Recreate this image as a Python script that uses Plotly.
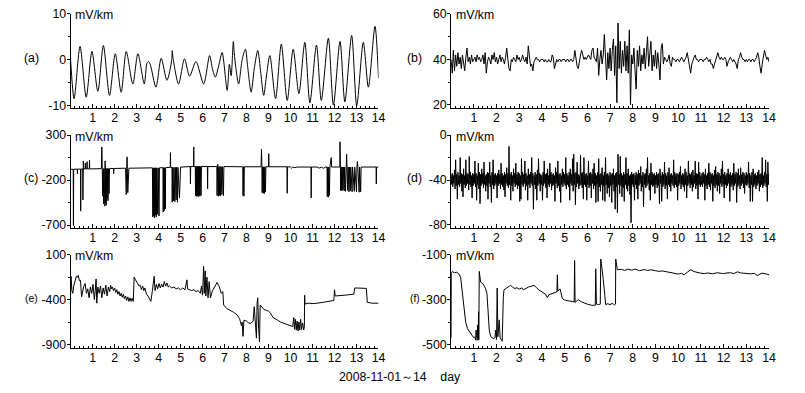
import plotly.graph_objects as go

# ---------------- data ----------------
days = list(range(1, 15))
tick_text = [str(d) for d in days]

# (a) extrema of the tidal-like signal
a_day = [0.00, 0.16, 0.43, 0.71, 0.97, 1.24, 1.49, 1.77, 2.03, 2.30, 2.53, 2.83, 3.06, 3.35, 3.47, 3.54, 3.62,
         3.88, 4.12, 4.38, 4.60, 4.62, 4.66, 4.91, 5.18, 5.41, 5.70, 6.05, 6.32, 6.45, 6.58, 6.75, 6.89, 7.12,
         7.22, 7.30, 7.40, 7.44, 7.52, 7.64, 7.80, 7.95, 8.05, 8.21, 8.35, 8.51, 8.65, 8.78, 8.92, 9.06, 9.32,
         9.58, 9.85, 10.12, 10.38, 10.65, 10.88, 11.18, 11.40, 11.72, 11.95, 12.25, 12.47, 12.78, 13.01, 13.31,
         13.54, 13.84, 14.00]
a_val = [0.0, -8.5, 2.9, -8.2, 1.8, -6.9, 3.1, -7.8, 1.3, -7.1, 1.8, -5.3, 1.3, -5.3, -0.8, -0.4, -1.0,
         -6.0, 0.3, -4.5, 0.0, 2.0, 0.3, -5.3, 0.2, -3.6, -0.4, -5.3, 0.9, -2.0, -3.8, -1.0, 1.6, -6.7,
         -1.0, -3.5, 4.0, 1.5, -2.0, -5.3, 0.0, 2.3, -1.5, -7.1, -2.0, 2.0, -3.0, -7.8, -3.0, 0.9, -8.5,
         3.4, -8.9, 2.3, -7.4, 3.8, -9.4, 3.2, -8.9, 4.7, -9.9, 4.0, -9.2, 5.3, -10.0, 3.8,
         -6.0, 7.3, -4.0]

# (b) sampled every 0.05 day
sample_step = 0.05
b_val = [40, 34, 44, 35, 42, 37, 43, 38, 41, 36, 42, 38, 35, 41, 45, 39, 41, 38, 42, 39,
         40, 41, 39, 42, 40, 41, 39, 40, 42, 38, 43, 34, 39, 41, 40, 38, 42, 40, 43, 39,
         41, 38, 40, 42, 39, 41, 40, 38, 41, 45, 40, 36, 35, 40, 39, 41, 40, 39, 42, 40,
         41, 39, 40, 42, 40, 39, 41, 38, 46, 40, 37, 38, 35, 39, 40, 41, 40, 40, 39, 40,
         40, 40, 39, 40, 39, 39, 40, 39, 39, 42, 41, 36, 38, 40, 39, 40, 40, 39, 40, 40,
         40, 39, 40, 40, 39, 40, 40, 39, 40, 44, 41, 37, 36, 40, 42, 44, 41, 40, 41, 40,
         41, 42, 41, 40, 44, 45, 41, 40, 39, 45, 33, 40, 44, 38, 42, 51, 37, 31, 43, 36,
         45, 35, 44, 49, 33, 46, 21, 56, 36, 48, 34, 44, 37, 48, 35, 46, 34, 53, 20, 42,
         38, 45, 35, 27, 44, 37, 46, 35, 42, 38, 45, 36, 43, 50, 37, 44, 48, 35, 42, 37,
         44, 36, 43, 38, 31, 45, 47, 38, 41, 40, 39, 40, 42, 38, 37, 41, 40, 40, 39, 40,
         40, 39, 40, 41, 40, 39, 40, 41, 43, 40, 37, 34, 38, 40, 41, 42, 40, 40, 39, 40,
         40, 40, 39, 40, 40, 41, 40, 39, 40, 38, 38, 36, 38, 40, 41, 43, 41, 40, 41, 40,
         40, 41, 40, 37, 39, 40, 41, 40, 39, 40, 39, 38, 36, 40, 41, 43, 41, 40, 40, 39,
         40, 39, 40, 40, 39, 40, 40, 39, 40, 41, 43, 41, 37, 34, 38, 41, 44, 42, 40, 41, 39]

# (d) upper and lower excursion in each 0.05-day bin
d_hi = [-35, -34, -36, -31, -22, -35, -33, -36, -20, -34, -35, -30, -36, -22, -34, -35, -19, -33, -36, -34,
        -35, -23, -34, -36, -25, -33, -35, -30, -34, -24, -36, -35, -33, -34, -24, -36, -33, -22, -35, -34,
        -36, -34, -31, -35, -25, -34, -36, -33, -35, -29, -34, -10, -35, -33, -36, -30, -34, -25, -35, -33,
        -34, -36, -21, -33, -35, -23, -34, -36, -30, -35, -33, -20, -34, -36, -33, -35, -31, -21, -34, -35,
        -36, -33, -23, -35, -34, -30, -36, -25, -33, -35, -34, -36, -29, -33, -23, -35, -34, -36, -30, -33,
        -35, -20, -34, -36, -33, -30, -35, -21, -17, -34, -33, -24, -35, -36, -18, -34, -33, -20, -35, -34,
        -36, -23, -34, -33, -35, -30, -25, -34, -36, -33, -21, -35, -34, -29, -36, -33, -20, -35, -34, -36,
        -33, -35, -34, -30, -36, -34, -33, -17, -35, -19, -34, -36, -33, -35, -20, -34, -30, -36, -35, -33,
        -35, -34, -36, -33, -35, -31, -34, -28, -36, -33, -35, -34, -30, -20, -36, -34, -25, -33, -35, -34,
        -36, -33, -35, -34, -30, -36, -33, -35, -24, -34, -36, -33, -29, -35, -34, -36, -22, -33, -35, -34,
        -35, -33, -28, -36, -34, -35, -30, -33, -36, -23, -34, -35, -33, -31, -36, -23, -34, -35, -24, -33,
        -36, -34, -33, -35, -30, -36, -34, -25, -33, -35, -34, -36, -31, -28, -35, -33, -34, -36, -30, -23,
        -35, -33, -36, -34, -30, -35, -33, -36, -34, -25, -35, -33, -34, -30, -36, -29, -35, -33, -34, -36,
        -33, -35, -24, -34, -36, -33, -30, -35, -34, -36, -33, -31, -35, -34, -20, -36, -33, -22, -35, -24, -34]
d_lo = [-44, -46, -43, -48, -45, -57, -44, -46, -43, -50, -55, -44, -47, -45, -43, -49, -44, -46, -56, -45,
        -43, -46, -58, -44, -48, -61, -45, -43, -47, -44, -50, -45, -57, -43, -46, -60, -44, -48, -45, -43,
        -56, -45, -43, -48, -44, -46, -49, -55, -43, -45, -47, -44, -58, -45, -50, -43, -46, -44, -48, -45,
        -59, -57, -44, -46, -43, -49, -45, -58, -44, -47, -43, -45, -66, -44, -48, -58, -45, -43, -50, -44,
        -58, -45, -43, -47, -56, -44, -46, -43, -49, -45, -44, -59, -43, -47, -45, -50, -60, -44, -46, -43,
        -45, -48, -44, -46, -58, -43, -45, -50, -44, -62, -46, -43, -48, -45, -44, -47, -57, -44, -46, -58,
        -44, -47, -45, -56, -43, -48, -45, -60, -44, -59, -46, -50, -44, -58, -45, -59, -44, -52, -47, -55,
        -45, -60, -44, -50, -66, -46, -69, -44, -52, -45, -55, -47, -59, -44, -48, -50, -45, -53, -78, -44,
        -46, -58, -44, -48, -57, -45, -43, -50, -46, -64, -44, -47, -45, -43, -49, -58, -44, -46, -45, -52,
        -44, -47, -45, -61, -43, -59, -46, -44, -48, -45, -57, -44, -46, -50, -43, -45, -47, -44, -46, -58,
        -45, -43, -48, -44, -46, -50, -44, -56, -45, -43, -47, -44, -50, -46, -43, -48, -45, -57, -44, -46,
        -44, -46, -43, -58, -45, -48, -44, -46, -49, -43, -59, -45, -47, -44, -50, -45, -52, -43, -46, -44,
        -56, -44, -47, -45, -43, -59, -46, -44, -49, -45, -43, -60, -46, -44, -48, -45, -43, -47, -52, -44,
        -45, -43, -47, -59, -44, -59, -46, -44, -48, -45, -43, -50, -46, -44, -47, -45, -43, -46, -59, -44, -45]

# (c) baseline with bursts
c_day = [0.00, 0.12, 0.13, 0.14, 0.30, 0.31, 0.32, 0.45, 0.46, 0.47, 0.55, 0.56, 0.57, 0.58, 0.59, 0.66, 0.67, 0.68,
         0.74, 0.75, 0.76, 0.85, 0.86, 0.87, 1.40, 1.42, 1.44, 1.46, 1.48, 1.50, 1.52, 1.53, 1.55, 1.56, 1.57, 1.58,
         1.59, 1.61, 1.62, 1.64, 1.66, 1.68, 1.70, 1.72, 1.75, 1.77, 1.95, 1.96, 1.97, 2.50, 2.53, 2.55, 2.57, 2.58,
         2.60, 2.62, 2.63, 2.65, 3.72, 3.74, 3.76, 3.78, 3.80, 3.82, 3.84, 3.86, 3.88, 3.90, 3.92, 3.96, 3.98, 4.02,
         4.04, 4.20, 4.21, 4.23, 4.26, 4.28, 4.31, 4.32, 4.53, 4.54, 4.55, 4.61, 4.62, 4.64, 4.68, 4.70, 4.74, 4.76,
         4.80, 4.82, 4.86, 4.88, 4.95, 4.97, 5.00, 5.44, 5.45, 5.46, 5.59, 5.60, 5.61, 5.67, 5.68, 5.70, 5.72, 5.74,
         5.76, 5.78, 5.80, 5.82, 5.84, 5.86, 5.88, 5.90, 5.93, 5.95, 6.22, 6.23, 6.24, 6.65, 6.66, 6.68, 6.69, 6.70,
         6.72, 6.74, 6.77, 6.79, 6.82, 6.84, 6.88, 6.90, 6.95, 6.97, 7.83, 7.84, 7.86, 7.88, 7.90, 8.66, 8.68, 8.70,
         8.71, 8.73, 8.76, 8.78, 8.81, 8.83, 8.86, 8.88, 9.00, 9.01, 9.02, 9.84, 9.85, 9.86, 10.00, 10.05, 10.10,
         10.20, 10.30, 10.93, 10.94, 10.95, 11.20, 11.30, 11.40, 11.50, 11.60, 11.66, 11.67, 11.69, 11.72, 11.74,
         11.77, 11.79, 11.85, 11.87, 12.24, 12.25, 12.27, 12.28, 12.30, 12.33, 12.35, 12.38, 12.40, 12.44, 12.46,
         12.50, 12.52, 12.55, 12.57, 12.60, 12.62, 12.66, 12.68, 12.72, 12.74, 12.80, 12.82, 12.90, 12.92, 13.00,
         13.02, 13.04, 13.06, 13.12, 13.14, 13.19, 13.21, 13.89, 13.90, 13.91, 14.00]
c_val = [-80, -80, -705, -80, -78, -130, -78, -77, -545, -77, -76, -420, -76, 13, -76, -76, -10, -76,
         -76, 5, -76, -76, 20, -76, -73, 168, -73, -380, -73, -464, -73, -470, -73, -490, 13, -73,
         -450, -73, -480, -72, -400, -72, -430, -72, -350, -72, -71, -130, -71, -68, -361, -68, 58, -68,
         -340, -68, -300, -68, -64, -611, -64, -600, -64, -620, -64, -590, -64, -611, -64, -580, -64, -600,
         -64, -62, -556, -62, -540, -62, -520, -62, -58, 105, -58, -58, -446, -58, -430, -58, -440, -58,
         -420, -58, -446, -58, -400, -58, -56, -50, -243, -50, -48, 168, -48, -48, -372, -48, -380, -48,
         -372, -48, -385, -48, -372, -48, -380, -48, -370, -48, -50, -298, -50, -50, -372, -50, -25, -50,
         -380, -50, -370, -50, -375, -50, -360, -50, -372, -50, -52, -372, -52, -380, -52, -52, 142, -52,
         -340, -52, -347, -52, -350, -52, -330, -52, -52, 94, -52, -52, -347, -52, -55, -67, -55,
         -62, -55, -55, -398, -55, -55, -67, -58, -68, -55, -55, -383, -55, -390, -55,
         -370, -55, 50, -55, -55, 226, -55, -317, -55, -320, -55, -310, -55, -320, -55,
         -325, -55, 87, -55, -315, -55, -330, -55, -320, -55, -330, -55, -325, -55, -330,
         -55, 6, -55, -335, -55, -330, -55, -55, -243, -55, -55]

# (e)
e_day = [0.00, 0.02, 0.06, 0.10, 0.14, 0.20, 0.26, 0.31, 0.35, 0.40, 0.45, 0.50, 0.55, 0.60, 0.66, 0.72, 0.78,
         0.84, 0.90, 0.96, 1.02, 1.08, 1.12, 1.16, 1.19, 1.24, 1.30, 1.36, 1.42, 1.48, 1.54, 1.60, 1.66, 1.72,
         1.78, 1.82, 1.86, 1.90, 1.95, 2.00, 2.05, 2.10, 2.15, 2.20, 2.25, 2.30, 2.35, 2.40, 2.45, 2.50, 2.55,
         2.60, 2.65, 2.70, 2.75, 2.80, 2.85, 2.89, 2.95, 3.05, 3.12, 3.17, 3.22, 3.28, 3.33, 3.38, 3.45, 3.52,
         3.58, 3.65, 3.72, 3.80, 3.84, 3.90, 3.96, 4.02, 4.08, 4.14, 4.20, 4.26, 4.32, 4.38, 4.44, 4.50, 4.60,
         4.70, 4.80, 4.90, 5.00, 5.10, 5.20, 5.29, 5.32, 5.40, 5.50, 5.60, 5.70, 5.80, 5.90, 5.95, 6.00, 6.05,
         6.08, 6.12, 6.15, 6.20, 6.25, 6.30, 6.36, 6.45, 6.55, 6.66, 6.75, 6.85, 6.92, 6.96, 7.10, 7.27, 7.40,
         7.57, 7.68, 7.77, 7.80, 7.84, 7.88, 8.00, 8.10, 8.20, 8.30, 8.35, 8.40, 8.45, 8.48, 8.51, 8.55, 8.59,
         8.62, 8.70, 8.79, 8.90, 9.00, 9.09, 9.20, 9.35, 9.54, 9.70, 9.85, 10.00, 10.10, 10.15, 10.18, 10.22,
         10.26, 10.30, 10.34, 10.38, 10.42, 10.46, 10.50, 10.55, 10.60, 10.63, 10.64, 10.66, 10.80, 11.06,
         11.50, 11.97, 12.00, 12.03, 12.50, 12.88, 12.92, 13.20, 13.45, 13.49, 13.70, 14.00]
e_val = [-350, -140, -300, -330, -250, -200, -140, -150, -130, -190, -185, -370, -300, -250, -220, -330, -280,
         -380, -260, -330, -230, -400, -300, -170, -440, -260, -330, -250, -380, -270, -340, -240, -360, -260,
         -310, -240, -280, -260, -300, -270, -320, -290, -340, -310, -360, -330, -375, -340, -390, -360, -410,
         -370, -420, -380, -420, -385, -420, -150, -180, -230, -250, -240, -290, -250, -300, -270, -340, -360,
         -390, -420, -300, -140, -300, -230, -280, -220, -270, -230, -260, -200, -250, -215, -260, -250, -270,
         -260, -280, -270, -290, -270, -290, -180, -280, -290, -300, -290, -310, -300, -330, -250, -350, -30,
         -330, -80, -360, -150, -380, -200, -380, -300, -260, -210, -250, -330, -310, -460, -500, -520, -540,
         -570, -610, -690, -650, -810, -630, -640, -660, -665, -640, -480, -670, -830, -440, -380, -720, -870,
         -460, -480, -510, -520, -530, -550, -600, -620, -650, -665, -680, -690, -700, -600, -730, -620,
         -740, -640, -750, -650, -740, -620, -735, -660, -740, -700, -350, -450, -440, -445,
         -430, -410, -290, -360, -350, -340, -270, -275, -275, -430, -440, -440]

# (f)
f_day = [0.00, 0.01, 0.05, 0.15, 0.25, 0.34, 0.42, 0.49, 0.57, 0.64, 0.72, 0.86, 1.00, 1.05, 1.08, 1.10, 1.12,
         1.15, 1.17, 1.19, 1.21, 1.22, 1.24, 1.30, 1.40, 1.52, 1.58, 1.62, 1.68, 1.74, 1.85, 1.93, 1.96, 2.00,
         2.03, 2.06, 2.12, 2.16, 2.22, 2.25, 2.30, 2.33, 2.45, 2.62, 2.70, 2.80, 2.90, 3.00, 3.10, 3.20, 3.30,
         3.40, 3.55, 3.65, 3.75, 3.85, 3.95, 4.05, 4.15, 4.24, 4.30, 4.40, 4.50, 4.60, 4.66, 4.68, 4.70, 4.80,
         4.90, 5.00, 5.20, 5.42, 5.44, 5.46, 5.60, 5.75, 6.00, 6.20, 6.35, 6.37, 6.40, 6.50, 6.57, 6.59, 6.62,
         6.70, 6.78, 6.81, 6.90, 7.00, 7.10, 7.20, 7.24, 7.25, 7.32, 7.50, 7.65, 7.80, 7.95, 8.10, 8.30, 8.50,
         8.65, 8.79, 9.00, 9.15, 9.30, 9.52, 9.65, 9.80, 10.00, 10.15, 10.26, 10.40, 10.55, 10.70, 10.85, 10.99,
         11.15, 11.30, 11.50, 11.73, 11.90, 12.00, 12.15, 12.30, 12.45, 12.61, 12.75, 12.90, 13.05, 13.20, 13.35,
         13.49, 13.60, 13.70, 13.85, 14.00]
f_val = [-470, -180, -175, -180, -178, -185, -200, -259, -332, -398, -429, -451, -470, -465, -480, -435, -478,
         -481, -413, -470, -354, -480, -174, -222, -229, -251, -273, -332, -435, -464, -473, -470, -435, -478,
         -248, -465, -390, -470, -481, -485, -290, -256, -248, -236, -244, -250, -247, -253, -248, -255, -250,
         -244, -240, -236, -245, -256, -262, -270, -275, -291, -278, -275, -272, -270, -265, -189, -262, -252,
         -295, -302, -306, -310, -126, -312, -300, -310, -320, -325, -325, -163, -320, -322, -320, -119, -140,
         -210, -300, -322, -318, -322, -316, -324, -320, -119, -167, -165, -170, -164, -169, -164, -171, -166,
         -170, -167, -171, -174, -172, -176, -179, -180, -186, -183, -189, -178, -167, -175, -180, -182,
         -184, -181, -185, -180, -183, -184, -181, -180, -184, -176, -181, -182, -186, -185, -183,
         -193, -186, -182, -185, -189]

y_ticks = {
    "a": [-10, 0, 10], "b": [20, 40, 60], "c": [-700, -200, 300],
    "d": [-80, -40, 0], "e": [-900, -400, 100], "f": [-500, -300, -100],
}
y_ranges = {
    "a": [-10.6, 10], "b": [18.6, 60], "c": [-734, 300],
    "d": [-82.8, 0], "e": [-937, 100], "f": [-514, -100],
}

# ---------------- figure ----------------
W, H = 805, 393
# the photographed page is slightly rescaled: shown = (0.99*x, 5.5 + 0.975*y)
SX, SY, OY = 0.99, 0.975, 5.5


def px_x(x):  # target picture pixel -> layout pixel
    return x / SX


def px_y(y):
    return (y - OY) / SY


grid_b = [round(i * sample_step, 3) for i in range(len(b_val))]
d_x, d_y = [], []
for i, (hi, lo) in enumerate(zip(d_hi, d_lo)):
    d_x += [round(i * sample_step, 3), round(i * sample_step + sample_step / 2, 3)]
    d_y += [hi, lo]

series = {
    "a": (a_day, a_val, "spline"),
    "b": (grid_b, b_val, "linear"),
    "c": (c_day, c_val, "linear"),
    "d": (d_x, d_y, "linear"),
    "e": (e_day, e_val, "linear"),
    "f": (f_day, f_val, "linear"),
}
order = ["a", "b", "c", "d", "e", "f"]

left_dom = [px_x(70.5) / W, px_x(378) / W]
right_dom = [px_x(450.5) / W, px_x(768) / W]
row_px = [(12.5, 107), (134, 227.3), (254, 347.3)]
row_dom = [[1 - px_y(b) / H, 1 - px_y(t) / H] for t, b in row_px]

FS = 12.3
font = dict(family="Liberation Sans, Arial, sans-serif", size=FS, color="black")

fig = go.Figure()
layout = dict(width=W, height=H, margin=dict(l=0, r=0, t=0, b=0),
              paper_bgcolor="white", plot_bgcolor="white", showlegend=False, font=font)

minor_x = [round(i * 0.2, 2) for i in range(0, 71) if i % 5 != 0]

annotations = []
for k, name in enumerate(order):
    idx = k + 1
    sfx = "" if idx == 1 else str(idx)
    col = k % 2
    row = k // 2
    xs, ys, shape = series[name]
    line = dict(color="black", width=1, shape=shape)
    if shape == "spline":
        line["smoothing"] = 0.8
    fig.add_trace(go.Scatter(x=xs, y=ys, mode="lines", line=line,
                             xaxis="x" + sfx, yaxis="y" + sfx, hoverinfo="skip"))
    xd = left_dom if col == 0 else right_dom
    yt = y_ticks[name]
    yr = y_ranges[name]
    q = (yt[1] - yt[0]) / 2
    layout["xaxis" + sfx] = dict(
        domain=xd, anchor="y" + sfx, range=[0, 14], tickmode="array", tickvals=days, ticktext=tick_text,
        ticks="inside", ticklen=4, tickwidth=1, tickcolor="black", showline=True, linecolor="black",
        linewidth=1, showgrid=False, zeroline=False, tickfont=font, ticklabelstandoff=-2,
        minor=dict(tickmode="array", tickvals=minor_x, ticks="inside", ticklen=2, tickcolor="black", showgrid=False))
    layout["yaxis" + sfx] = dict(
        domain=row_dom[row], anchor="x" + sfx, range=yr, tickmode="array", tickvals=yt,
        ticktext=[str(v) for v in yt], ticks="outside", ticklen=3, tickwidth=1, tickcolor="black",
        showline=True, linecolor="black", linewidth=1, showgrid=False, zeroline=False, tickfont=font,
        ticklabelstandoff=-2,
        minor=dict(tickmode="array", tickvals=[yt[0] + q, yt[1] + q], ticks="outside", ticklen=2,
                   tickcolor="black", showgrid=False))
    ux = 73 if col == 0 else 453
    uy = [14, 135.5, 255.5][row]
    annotations.append(dict(text="mV/km", x=px_x(ux) / W, y=1 - px_y(uy) / H,
                            xref="paper", yref="paper", xanchor="left", yanchor="middle",
                            showarrow=False, font=font))
    lx = 31 if col == 0 else 414
    ly = [57, 177, 298][row]
    annotations.append(dict(text="(" + name + ")", x=px_x(lx) / W, y=1 - px_y(ly) / H, xref="paper",
                            yref="paper", xanchor="center", yanchor="middle", showarrow=False,
                            font=dict(family=font["family"], size=FS if row < 2 else 10.3, color="black")))

annotations.append(dict(text="2008-11-01～14    day", x=px_x(399) / W, y=1 - px_y(377) / H, xref="paper",
                        yref="paper", xanchor="center", yanchor="middle", showarrow=False, font=font))
layout["annotations"] = annotations
fig.update_layout(**layout)

pin_plot = ("var gd=document.getElementById('{plot_id}');"
            "gd.style.position='fixed';gd.style.top='0px';gd.style.left='0px';"
            "document.body.style.margin='0px';document.documentElement.style.overflow='hidden';"
            "document.body.style.overflow='hidden';")
fig.write_html("out.html", config={"displayModeBar": False}, post_script=pin_plot)
